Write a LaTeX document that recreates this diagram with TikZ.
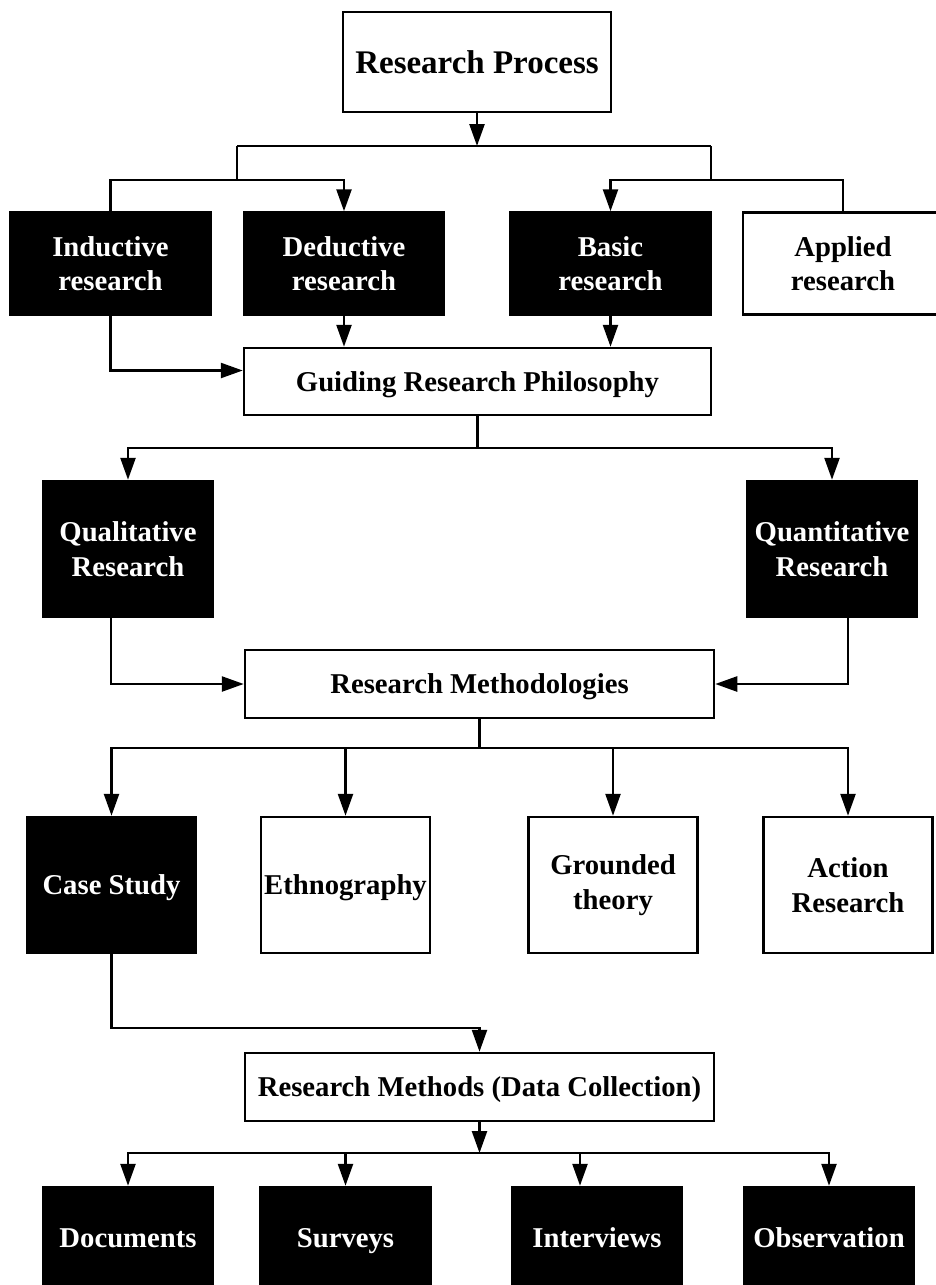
\documentclass[tikz,border=0pt]{standalone}
\usepackage{fontspec}
\setmainfont{Liberation Serif}
\usetikzlibrary{arrows.meta,calc}
\begin{document}
\begin{tikzpicture}[x=1pt,y=-1pt,line width=2.5pt,
  box/.style={draw=black,line width=2.5pt,inner sep=0pt,align=center,
    font=\fontsize{28.7}{34.5}\selectfont\bfseries},
  wht/.style={box,fill=white,text=black},
  blk/.style={box,fill=black,text=white},
  one/.style={text depth=0pt},
  arr/.style={-{Triangle[length=22pt,width=15pt]}},
  line join=miter]
\useasboundingbox (0,0) rectangle (936,1285);
\clip (0,0) rectangle (936,1285);
% nodes
\node[wht,one,minimum width=268pt,minimum height=100pt,font=\fontsize{33}{40}\selectfont\bfseries] (rp) at (477,62) {Research Process};
\node[blk,minimum width=201pt,minimum height=103pt] (ind) at (110.5,263.5) {Inductive\\research};
\node[blk,minimum width=200pt,minimum height=102pt] (ded) at (344,263.5) {Deductive\\research};
\node[blk,minimum width=201pt,minimum height=102pt] (bas) at (610.5,263.5) {Basic\\research};
\node[wht,minimum width=200pt,minimum height=102pt] (app) at (843,263.5) {Applied\\research};
\node[wht,one,minimum width=467pt,minimum height=67pt] (grp) at (477.5,381.5) {Guiding Research Philosophy};
\node[blk,minimum width=170pt,minimum height=136pt] (qual) at (128,549) {Qualitative\\Research};
\node[blk,minimum width=170pt,minimum height=136pt] (quant) at (832,549) {Quantitative\\Research};
\node[wht,one,minimum width=469pt,minimum height=68pt] (rm) at (479.5,684) {Research Methodologies};
\node[blk,one,minimum width=169pt,minimum height=136pt] (cs) at (111.5,885) {Case Study};
\node[wht,one,minimum width=169pt,minimum height=136pt] (eth) at (345.5,885) {Ethnography};
\node[wht,minimum width=169pt,minimum height=136pt] (gt) at (613,885) {Grounded\\theory};
\node[wht,minimum width=169pt,minimum height=136pt] (ar) at (848,885) {Action\\Research};
\node[wht,one,minimum width=469pt,minimum height=68pt] (rmd) at (479.5,1087) {Research Methods (Data Collection)};
\node[blk,one,minimum width=170pt,minimum height=102pt] (doc) at (128,1238) {Documents};
\node[blk,one,minimum width=170pt,minimum height=102pt] (sur) at (345.5,1238) {Surveys};
\node[blk,one,minimum width=170pt,minimum height=102pt] (int) at (597,1238) {Interviews};
\node[blk,one,minimum width=170pt,minimum height=102pt] (obs) at (829,1238) {Observation};
% junction coordinates
\coordinate (j1) at (477,146);
\coordinate (jL) at (237,146);
\coordinate (jR) at (711,146);
\coordinate (kL) at (237,180);
\coordinate (kR) at (711,180);
\coordinate (j2) at (477.5,448);
\coordinate (j3) at (479.5,748);
\coordinate (k3) at (479.5,1028);
\coordinate (j4) at (479.5,1153);
% connectors
\draw[arr] (rp.south) -- (j1);
\draw (jL) -- (jR);
\draw (jL) -- (kL);
\draw (jR) -- (kR);
\draw[arr] (ind.north) |- (kL) -| (ded.north);
\draw[arr] (app.north) |- (kR) -| (bas.north);
\draw[arr] (ded.south) -- (ded.south |- grp.north);
\draw[arr] (bas.south) -- (bas.south |- grp.north);
\draw[arr] (ind.south) |- ($(grp.west)+(0,-11)$);
\draw (grp.south) -- (j2);
\draw[arr] (j2) -| (qual.north);
\draw[arr] (j2) -| (quant.north);
\draw[arr] ($(qual.south)+(-17,0)$) |- (rm.west);
\draw[arr] ($(quant.south)+(16,0)$) |- (rm.east);
\draw (rm.south) -- (j3);
\draw[arr] (j3) -| (cs.north);
\draw[arr] (j3) -| (eth.north);
\draw[arr] (j3) -| (gt.north);
\draw[arr] (j3) -| (ar.north);
\draw[arr] (cs.south) |- (k3) -- (rmd.north);
\draw[arr] (rmd.south) -- (j4);
\draw[arr] (j4) -| (doc.north);
\draw[arr] (j4) -| (sur.north);
\draw[arr] (j4) -| ($(int.north)+(-17,0)$);
\draw[arr] (j4) -| (obs.north);
\end{tikzpicture}
\end{document}
